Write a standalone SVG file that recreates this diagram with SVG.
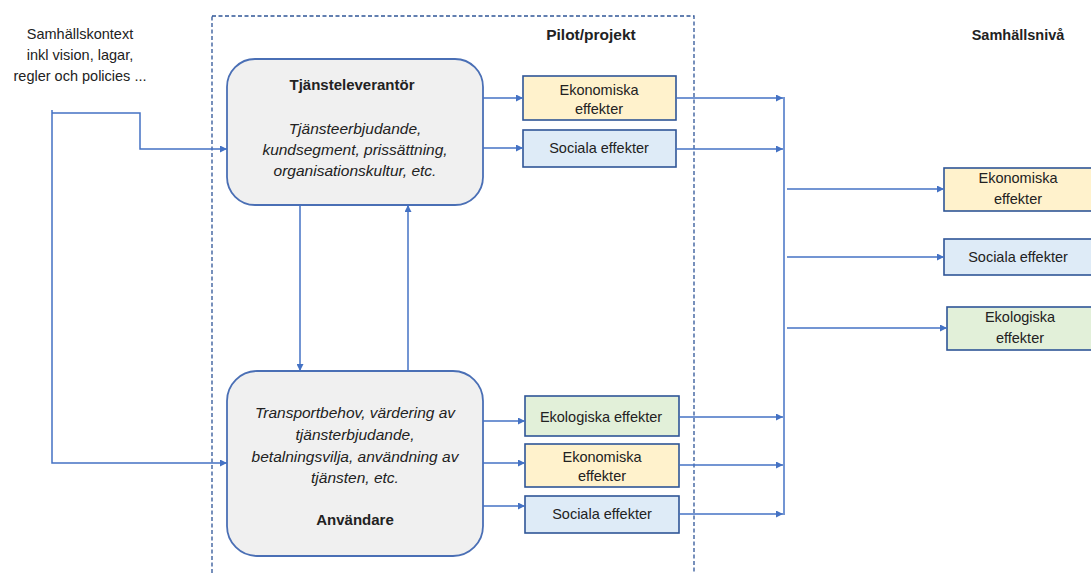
<svg xmlns="http://www.w3.org/2000/svg" width="1091" height="574" viewBox="0 0 1091 574">
  <style>
    .t { font-family: "Liberation Sans", Arial, sans-serif; font-size: 14.5px; fill: #222; text-anchor: middle; }
    .b { font-weight: bold; }
    .h { font-size: 15px; }
    .i { font-style: italic; font-size: 15.5px; }
    .frame { fill: none; stroke: #2F5597; stroke-width: 1.3; stroke-dasharray: 4 2.5; }
    .actor { fill: #F0F0F0; stroke: #4A6FB5; stroke-width: 1.8; }
    .eff { stroke: #2F5597; stroke-width: 1.6; }
    .eko { fill: #FFF2CC; }
    .soc { fill: #DEEBF7; }
    .ekol { fill: #E2F0D9; }
    .con { fill: none; stroke: #4472C4; stroke-width: 1.5; }
  </style>
  <defs>
    <marker id="arr" viewBox="0 0 10 10" refX="10" refY="5" markerWidth="7" markerHeight="7" markerUnits="userSpaceOnUse" orient="auto">
      <path d="M0,0 L10,5 L0,10 Z" fill="#4472C4"/>
    </marker>
  </defs>
  <rect width="1091" height="574" fill="#fff"/>

  <!-- pilot / project frame -->
  <g id="pilot-frame">
    <rect class="frame" x="212" y="16" width="482" height="570"/>
    <text class="t b" x="591" y="40" style="font-size:15.5px">Pilot/projekt</text>
  </g>

  <g id="context">
    <text class="t" x="80" y="39">Samhällskontext</text>
    <text class="t" x="80" y="60">inkl vision, lagar,</text>
    <text class="t" x="80" y="81">regler och policies ...</text>
  </g>

  <g id="society-title">
    <text class="t b" x="1018" y="40">Samhällsnivå</text>
  </g>

  <!-- actors -->
  <g id="provider">
    <rect class="actor" x="227" y="59" width="256" height="146" rx="28"/>
    <text class="t b h" x="352" y="90">Tjänsteleverantör</text>
    <text class="t i" x="355" y="134">Tjänsteerbjudande,</text>
    <text class="t i" x="355" y="155">kundsegment, prissättning,</text>
    <text class="t i" x="355" y="176">organisationskultur, etc.</text>
  </g>

  <g id="user">
    <rect class="actor" x="227" y="371" width="256" height="185" rx="30"/>
    <text class="t i" x="355" y="418">Transportbehov, värdering av</text>
    <text class="t i" x="355" y="440">tjänsterbjudande,</text>
    <text class="t i" x="355" y="462">betalningsvilja, användning av</text>
    <text class="t i" x="355" y="483">tjänsten, etc.</text>
    <text class="t b h" x="355" y="525">Användare</text>
  </g>

  <!-- pilot-level effects -->
  <g id="pilot-eko-1">
    <rect class="eff eko" x="523" y="76" width="153" height="44"/>
    <text class="t" x="599" y="95">Ekonomiska</text>
    <text class="t" x="599" y="114">effekter</text>
  </g>
  <g id="pilot-soc-1">
    <rect class="eff soc" x="523" y="130" width="153" height="37"/>
    <text class="t" x="599" y="153">Sociala effekter</text>
  </g>
  <g id="pilot-ekol-2">
    <rect class="eff ekol" x="525" y="396" width="154" height="40"/>
    <text class="t" x="601" y="422">Ekologiska effekter</text>
  </g>
  <g id="pilot-eko-2">
    <rect class="eff eko" x="525" y="444" width="154" height="43"/>
    <text class="t" x="602" y="462">Ekonomiska</text>
    <text class="t" x="602" y="481">effekter</text>
  </g>
  <g id="pilot-soc-2">
    <rect class="eff soc" x="525" y="496" width="154" height="37"/>
    <text class="t" x="602" y="519">Sociala effekter</text>
  </g>

  <!-- society-level effects -->
  <g id="soc-eko">
    <rect class="eff eko" x="944" y="168" width="150" height="43"/>
    <text class="t" x="1018" y="183">Ekonomiska</text>
    <text class="t" x="1018" y="204">effekter</text>
  </g>
  <g id="soc-soc">
    <rect class="eff soc" x="944" y="239" width="150" height="36"/>
    <text class="t" x="1018" y="262">Sociala effekter</text>
  </g>
  <g id="soc-ekol">
    <rect class="eff ekol" x="947" y="307" width="147" height="43"/>
    <text class="t" x="1020" y="322">Ekologiska</text>
    <text class="t" x="1020" y="343">effekter</text>
  </g>

  <!-- connectors -->
  <g id="connectors" class="con">
    <path class="con" d="M52,110 V463 H227" marker-end="url(#arr)"/>
    <path class="con" d="M52,113 H140 V149 H227" marker-end="url(#arr)"/>
    <path class="con" d="M300,205 V371" marker-end="url(#arr)"/>
    <path class="con" d="M408,371 V205" marker-end="url(#arr)"/>

    <path class="con" d="M483,98 H523" marker-end="url(#arr)"/>
    <path class="con" d="M483,148 H523" marker-end="url(#arr)"/>
    <path class="con" d="M483,421 H525" marker-end="url(#arr)"/>
    <path class="con" d="M483,463 H525" marker-end="url(#arr)"/>
    <path class="con" d="M483,506 H525" marker-end="url(#arr)"/>

    <path class="con" d="M676,98 H783" marker-end="url(#arr)"/>
    <path class="con" d="M676,149 H783" marker-end="url(#arr)"/>
    <path class="con" d="M679,417 H783" marker-end="url(#arr)"/>
    <path class="con" d="M679,465 H783" marker-end="url(#arr)"/>
    <path class="con" d="M679,514 H783" marker-end="url(#arr)"/>

    <path class="con" d="M784,97 V515"/>
    <path class="con" d="M787,189 H944" marker-end="url(#arr)"/>
    <path class="con" d="M787,257 H944" marker-end="url(#arr)"/>
    <path class="con" d="M787,328 H947" marker-end="url(#arr)"/>
  </g>
</svg>
